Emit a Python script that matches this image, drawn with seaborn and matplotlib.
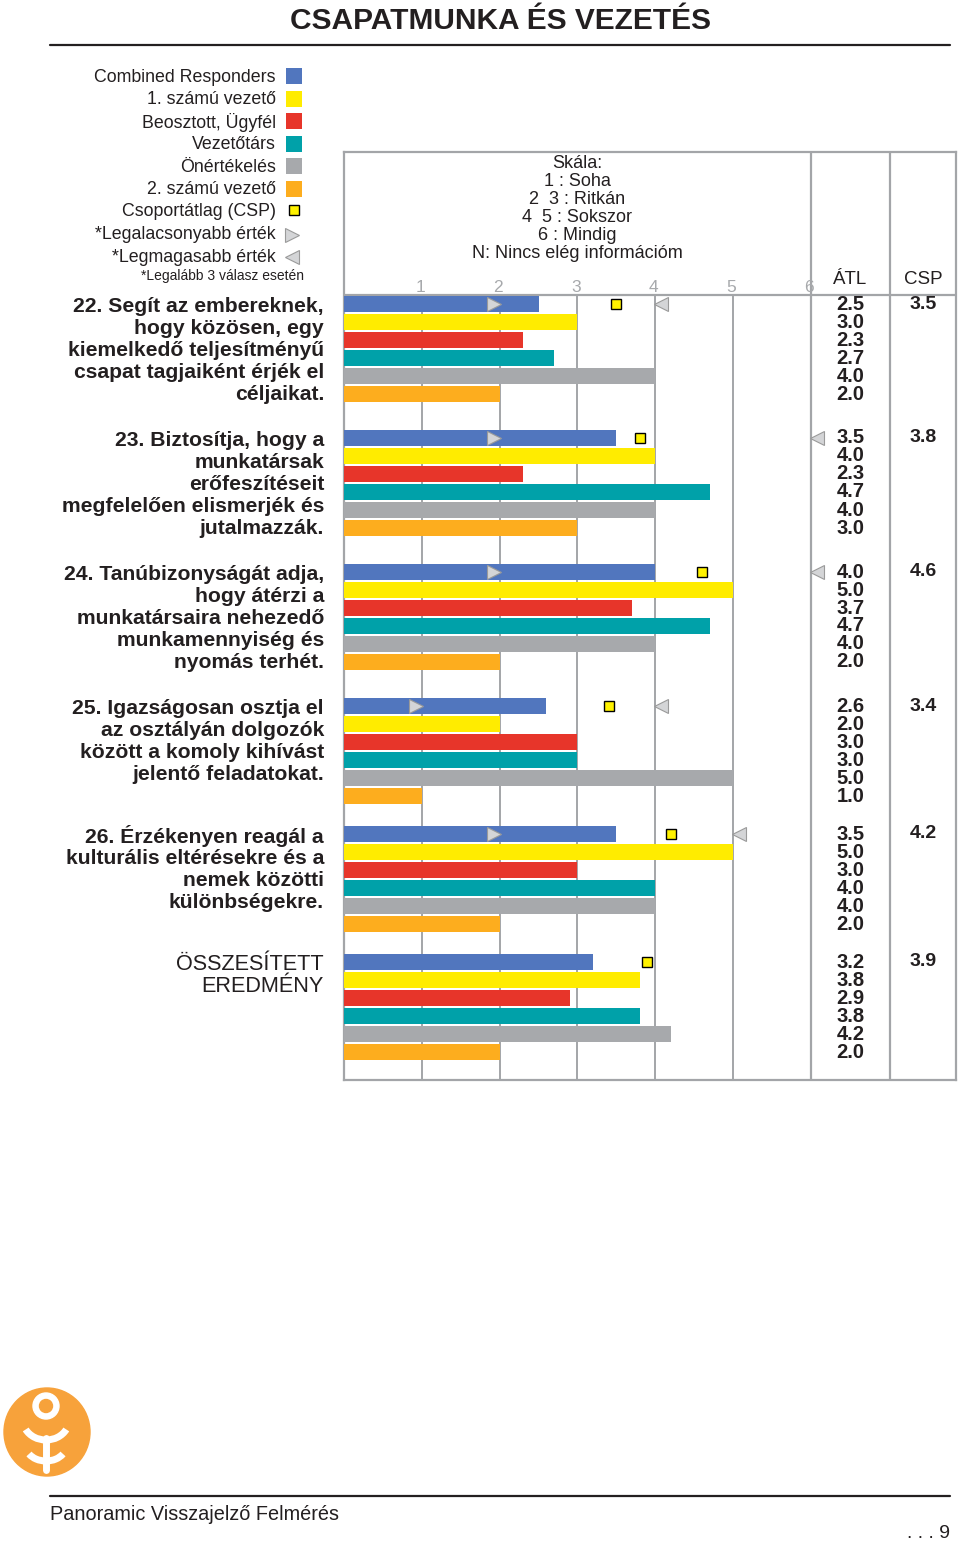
import numpy as np
import pandas as pd
import matplotlib
matplotlib.use("Agg")
import matplotlib.pyplot as plt
import matplotlib.transforms as mtransforms
from matplotlib.patches import Rectangle, Ellipse, Circle, Arc
import seaborn as sns

# --- data ---------------------------------------------------------------
SERIES = ['Combined Responders', '1. számú vezető', 'Beosztott, Ügyfél',
          'Vezetőtárs', 'Önértékelés', '2. számú vezető']
COLORS = ['#5176BE', '#FFEC00', '#E7352A', '#00A1A9', '#A7A9AC', '#FDAD1E']

Q22 = [2.5, 3.0, 2.3, 2.7, 4.0, 2.0]
Q23 = [3.5, 4.0, 2.3, 4.7, 4.0, 3.0]
Q24 = [4.0, 5.0, 3.7, 4.7, 4.0, 2.0]
Q25 = [2.6, 2.0, 3.0, 3.0, 5.0, 1.0]
Q26 = [3.5, 5.0, 3.0, 4.0, 4.0, 2.0]
TOTAL = [3.2, 3.8, 2.9, 3.8, 4.2, 2.0]
GROUP_VALUES = [Q22, Q23, Q24, Q25, Q26, TOTAL]

CSP = [3.5, 3.8, 4.6, 3.4, 4.2, 3.9]
LOWEST = [2, 2, 2, 1, 2, None]
HIGHEST = [4, 6, 6, 4, 5, None]

QUESTIONS = [
    ['22. Segít az embereknek,', 'hogy közösen, egy', 'kiemelkedő teljesítményű',
     'csapat tagjaiként érjék el', 'céljaikat.'],
    ['23. Biztosítja, hogy a', 'munkatársak', 'erőfeszítéseit',
     'megfelelően elismerjék és', 'jutalmazzák.'],
    ['24. Tanúbizonyságát adja,', 'hogy átérzi a', 'munkatársaira nehezedő',
     'munkamennyiség és', 'nyomás terhét.'],
    ['25. Igazságosan osztja el', 'az osztályán dolgozók',
     'között a komoly kihívást', 'jelentő feladatokat.'],
    ['26. Érzékenyen reagál a', 'kulturális eltérésekre és a', 'nemek közötti',
     'különbségekre.'],
    ['ÖSSZESÍTETT', 'EREDMÉNY'],
]
SCALE_LINES = ['Skála:', '1 : Soha', '2  3 : Ritkán', '4  5 : Sokszor',
               '6 : Mindig', 'N: Nincs elég információm']
TICKS = [1, 2, 3, 4, 5, 6]

# --- layout (page pixels) ------------------------------------------------
W, H = 960, 1543
X0, UNIT = 344, 77.8
BOX_L, BOX_T, BOX_R, BOX_B = 344, 152, 956, 1080
HEADER_Y = 295
GROUP_TOP = [295, 429, 563, 697, 825, 953]
ROW = 18
XMAX = (BOX_R - X0) / UNIT
DIV2 = (890 - X0) / UNIT
ATL_X = (6 + DIV2) / 2
CSP_X = (DIV2 + XMAX) / 2
GRID = '#A3A5A8'
ORANGE = '#F7A23B'
INK = '#231F20'


def rect(x0, y0, x1, y1):
    return [x0 / W, 1 - y1 / H, (x1 - x0) / W, (y1 - y0) / H]


sns.set_theme(style="white")
plt.rcParams['font.family'] = ['Liberation Sans', 'DejaVu Sans']
NARROW = ['Liberation Sans Narrow', 'Liberation Sans', 'DejaVu Sans']

fig = plt.figure(figsize=(W / 100, H / 100), dpi=100)

# page overlay in pixel coordinates
page = fig.add_axes([0, 0, 1, 1])
page.set_xlim(0, W)
page.set_ylim(H, 0)
page.axis('off')

page.text(500, 21, 'CSAPATMUNKA ÉS VEZETÉS', ha='center', va='center',
          fontsize=21.5, fontweight='bold', color=INK)
page.plot([50, 950], [45, 45], color=INK, lw=1.6)

# legend
legend_names = SERIES + ['Csoportátlag (CSP)', '*Legalacsonyabb érték',
                         '*Legmagasabb érték']
for i, name in enumerate(legend_names):
    y = 77 + i * 22.5
    page.text(276, y, name, ha='right', va='center', fontsize=12.8, color=INK)
    if i < len(SERIES):
        page.add_patch(Rectangle((286, y - 9), 16, 16, fc=COLORS[i],
                                 ec='none'))
    elif i == 6:
        page.plot(294, y - 2, marker='s', ms=7, mfc='#FFF200', mec='black',
                  mew=1)
    elif i == 7:
        page.plot(292, y, marker='>', ms=10, mfc='#D4D5D7', mec='#9A9A9A',
                  mew=0.8)
    else:
        page.plot(292, y, marker='<', ms=10, mfc='#D4D5D7', mec='#9A9A9A',
                  mew=0.8)
page.text(304, 276, '*Legalább 3 válasz esetén', ha='right', va='center',
          fontsize=10, color=INK)

# question labels
for g, lines in enumerate(QUESTIONS):
    last = g == len(QUESTIONS) - 1
    for i, line in enumerate(lines):
        page.text(324, GROUP_TOP[g] + 11 + i * 22, line, ha='right',
                  va='center', fontsize=15.6 if last else 15.2,
                  fontweight='normal' if last else 'bold', color=INK)

# footer + logo
page.plot([50, 950], [1496, 1496], color=INK, lw=1.6)
page.text(50, 1515, 'Panoramic Visszajelző Felmérés', ha='left', va='center',
          fontsize=14.3, color=INK)
page.text(950, 1534, '. . . 9', ha='right', va='center', fontsize=14,
          color=INK)
page.add_patch(Ellipse((47, 1432), 86, 88, color=ORANGE))
page.add_patch(Circle((46, 1406), 13, color='white'))
page.add_patch(Circle((46, 1406), 6.5, color=ORANGE))
page.add_patch(Arc((46, 1420), 46, 40, theta1=25, theta2=155, color='white',
                   lw=5))
page.add_patch(Arc((46, 1446), 40, 30, theta1=25, theta2=155, color='white',
                   lw=5))
page.plot([46, 46], [1438, 1470], color='white', lw=5,
          solid_capstyle='round')

# chart frame, grid and header
bg = fig.add_axes(rect(BOX_L, BOX_T, BOX_R, BOX_B))
bg.set_xlim(0, XMAX)
bg.set_ylim(BOX_B, BOX_T)
bg.set_xticks([])
bg.set_yticks([])
bg.set_facecolor('white')
for sp in bg.spines.values():
    sp.set_color(GRID)
    sp.set_linewidth(1.6)
bg.axhline(HEADER_Y, color=GRID, lw=1.6)
bg.vlines([6, DIV2], BOX_T, BOX_B, color=GRID, lw=1.6)
bg.vlines(TICKS[:-1], HEADER_Y, BOX_B, color=GRID, lw=1.4)
for t in TICKS:
    bg.text(t - 0.02, 287, str(t), ha='center', va='center', fontsize=12.5,
            color='#A7A9AC')
for i, line in enumerate(SCALE_LINES):
    bg.text(3, 163 + i * 18, line, ha='center', va='center', fontsize=13,
            color=INK)
bg.text(ATL_X, 279, 'ÁTL', ha='center', va='center', fontsize=13.5,
        color=INK)
bg.text(CSP_X, 279, 'CSP', ha='center', va='center', fontsize=13.5,
        color=INK)

# bar groups
for g, vals in enumerate(GROUP_VALUES):
    top = GROUP_TOP[g]
    ax = fig.add_axes(rect(BOX_L, top, BOX_R, top + 6 * ROW))
    df = pd.DataFrame({'series': SERIES, 'value': vals})
    sns.barplot(data=df, x='value', y='series', hue='series', order=SERIES,
                hue_order=SERIES, palette=COLORS, orient='y', width=0.88,
                saturation=1, legend=False, linewidth=0, ax=ax)
    ax.set_xlim(0, XMAX)
    ax.set_ylim(5.5, -0.5)
    ax.set_facecolor('none')
    ax.axis('off')

    for i, v in enumerate(vals):
        ax.text(ATL_X, i, f'{v:.1f}', ha='center', va='center', fontsize=14.5,
                fontweight='bold', family=NARROW, color=INK)
    ax.text(CSP_X, 0, f'{CSP[g]:.1f}', ha='center', va='center', fontsize=14,
            fontweight='bold', color=INK)
    ax.plot(CSP[g], 0, marker='s', ms=7, mfc='#FFF200', mec='black', mew=1,
            zorder=5)
    if LOWEST[g] is not None:
        tr = ax.transData + mtransforms.ScaledTranslation(-0.06, 0,
                                                          fig.dpi_scale_trans)
        ax.plot(LOWEST[g], 0, marker='>', ms=10, mfc='#D4D5D7',
                mec='#9A9A9A', mew=0.8, transform=tr, zorder=5)
    if HIGHEST[g] is not None:
        tr = ax.transData + mtransforms.ScaledTranslation(0.06, 0,
                                                          fig.dpi_scale_trans)
        ax.plot(HIGHEST[g], 0, marker='<', ms=10, mfc='#D4D5D7',
                mec='#9A9A9A', mew=0.8, transform=tr, zorder=5)

fig.savefig('out.png', dpi=100, facecolor='white')
